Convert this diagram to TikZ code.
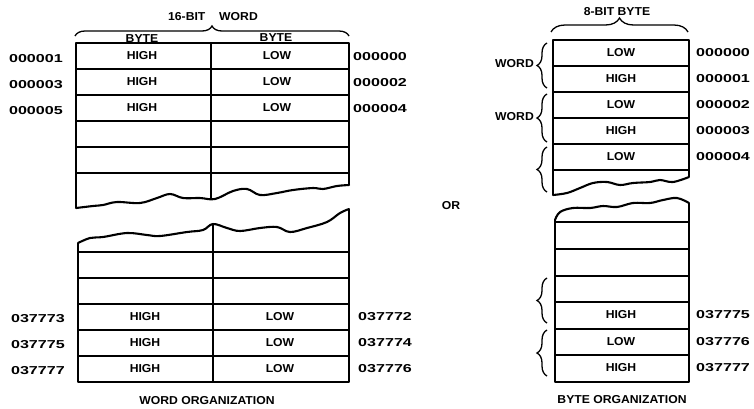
\documentclass[tikz,border=0pt]{standalone}
\usepackage{fontspec}
\setmainfont{Liberation Sans}
\newfontfamily\letterfont{Liberation Sans}[FakeStretch=1.06]
\newfontfamily\addrfont{Liberation Sans}[FakeStretch=1.4]
\usetikzlibrary{decorations.pathreplacing}

\begin{document}
\begin{tikzpicture}[x=1pt, y=-1pt,
    lbl/.style={font=\letterfont\bfseries\fontsize{11.5}{11.5}\selectfont, inner sep=0pt},
    addr/.style={font=\addrfont\bfseries\fontsize{11.5}{11.5}\selectfont, inner sep=0pt},
    grid/.style={line width=2.1pt, line join=round},
    wave/.style={line width=2.1pt, line join=round, line cap=round},
    curly/.style={decorate, decoration={brace, amplitude=#1}, line width=1.3pt}]
  \useasboundingbox (0,0) rectangle (754,408);

  % Word organization, upper part
  \draw[grid] (349,185) -- (349,43) -- (76,43) -- (76,208);
  \draw[grid] (211,43) -- (211,199);
  \foreach \y in {69,95,121,147,173} \draw[grid] (76,\y) -- (349,\y);
  \draw[wave] plot[smooth, tension=0.6] coordinates {(76,208) (93,206) (103,205) (117,202)
    (140,203) (157,198) (170,194) (183,198) (200,198) (215,199) (233,191) (247,189)
    (260,195) (277,193) (293,190) (313,188) (323,189) (337,186) (349,185)};

  % Word organization, lower part
  \draw[wave] plot[smooth, tension=0.6] coordinates {(78,243) (90,238) (103,237) (127,233)
    (147,235) (160,236) (187,232) (203,230) (213,224) (227,228) (240,231) (260,228)
    (277,227) (290,232) (307,228) (327,222) (340,213) (349,209)};
  \draw[grid] (78,243) -- (78,382) -- (349,382) -- (349,209);
  \draw[grid] (213,224) -- (213,382);
  \foreach \y in {252,278,304,330,356} \draw[grid] (78,\y) -- (349,\y);

  \draw[curly=10pt] (75,36) -- (349,36);
  \node[lbl] (wtitle) at (213,17) {16-BIT\hspace{1.2em}WORD};
  \node[lbl] (bhigh) at (142,39) {BYTE};
  \node[lbl] (blow) at (276,38) {BYTE};

  \foreach \i/\y/\a/\b in {1/56/000001/000000, 2/82/000003/000002, 3/108/000005/000004} {
    \node[lbl] (wh\i) at (142,\y) {HIGH};
    \node[lbl] (wl\i) at (277,\y) {LOW};
    \node[addr, anchor=east] (wa\i) at (63,\y+3) {\a};
    \node[addr, anchor=west] (wb\i) at (353,\y+1) {\b};
  }
  \foreach \i/\y/\a/\b in {4/317/037773/037772, 5/343/037775/037774, 6/369/037777/037776} {
    \node[lbl] (wh\i) at (145,\y) {HIGH};
    \node[lbl] (wl\i) at (280,\y) {LOW};
    \node[addr, anchor=east] (wa\i) at (65,\y+2) {\a};
    \node[addr, anchor=west] (wb\i) at (358,\y) {\b};
  }
  \node[lbl] (wcap) at (207,401) {WORD ORGANIZATION};

  \node[lbl] (or) at (451,206) {OR};

  % Byte organization, upper part
  \draw[grid] (689,177) -- (689,40) -- (553,40) -- (553,195);
  \foreach \y in {66,92,118,144,170} \draw[grid] (553,\y) -- (689,\y);
  \draw[wave] plot[smooth, tension=0.6] coordinates {(553,195) (567,193) (580,188)
    (593,183) (607,182) (620,185) (633,183) (650,182) (660,180) (673,182) (689,177)};

  % Byte organization, lower part
  \draw[wave] plot[smooth, tension=0.6] coordinates {(555,220) (560,212) (573,208)
    (590,208) (603,206) (617,207) (633,203) (650,203) (663,200) (677,198) (689,203)};
  \draw[grid] (555,220) -- (555,382) -- (689,382) -- (689,203);
  \foreach \y in {222,249,276,302,329,355} \draw[grid] (555,\y) -- (689,\y);

  \draw[curly=14pt] (551,32) -- (688,32);
  \node[lbl] (btitle) at (617,12) {8-BIT BYTE};

  \foreach \i/\y/\t/\a in {1/53/LOW/000000, 2/79/HIGH/000001, 3/105/LOW/000002,
      4/131/HIGH/000003, 5/157/LOW/000004, 6/315/HIGH/037775, 7/342/LOW/037776,
      8/368/HIGH/037777} {
    \node[lbl] (bc\i) at (621,\y) {\t};
    \node[addr, anchor=west] (ba\i) at (696,\y) {\a};
  }

  % words of two bytes
  \draw[curly=10pt] (547,88) -- (547,43);
  \draw[curly=10pt] (547,142) -- (547,94);
  \draw[curly=10pt] (547,192) -- (547,147);
  \draw[curly=10pt] (547,323) -- (547,278);
  \draw[curly=10pt] (547,376) -- (547,330);
  \node[lbl, anchor=east] (bw1) at (534,64) {WORD};
  \node[lbl, anchor=east] (bw2) at (534,117) {WORD};
  \node[lbl] (bcap) at (622,400) {BYTE ORGANIZATION};
\end{tikzpicture}
\end{document}
